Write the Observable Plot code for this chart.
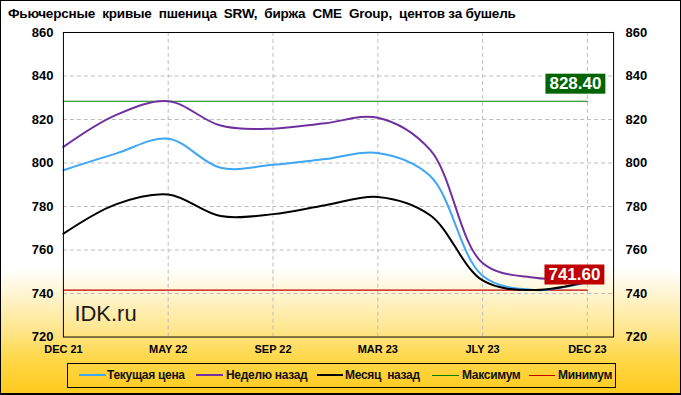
<!DOCTYPE html>
<html><head><meta charset="utf-8">
<script src="https://cdn.jsdelivr.net/npm/d3@7"></script>
<script src="https://cdn.jsdelivr.net/npm/@observablehq/plot@0.6"></script>
<style>
html,body{margin:0;padding:0;background:#fff;}
#wrap{position:relative;width:681px;height:395px;box-sizing:border-box;border:1px solid #000;border-bottom:2px solid #000;
  background:linear-gradient(to bottom,#ffffff 0%,#ffffff 68%,#fff6d6 74%,#ffe68c 84%,#ffd84a 91%,#ffca1e 100%);
  overflow:hidden;font-family:"Liberation Sans",Arial,sans-serif;}
#title{position:absolute;left:7px;top:5px;font-weight:bold;font-size:13.5px;white-space:pre;color:#000;letter-spacing:-0.2px;}
#chart{position:absolute;left:-1px;top:23px;}
#legend{position:absolute;left:66px;top:362px;width:549px;height:25px;border:1px solid #000;box-sizing:border-box;}
.ll{position:absolute;top:11px;height:0;border-top-style:solid;}
.lt{position:absolute;top:4px;font-weight:bold;font-size:12px;white-space:pre;color:#111;letter-spacing:-0.3px;}
</style></head>
<body>
<div id="wrap">
  <div id="title">Фьючерсные  кривые  пшеница  SRW,  биржа  CME  Group,  центов за бушель</div>
  <div id="chart"></div>
  <div id="legend"></div>
</div>
<script>
// Contract months (x categories)
const contracts = ["DEC 21","MAR 22","MAY 22","JLY 22","SEP 22","DEC 22","MAR 23","MAY 23","JLY 23","SEP 23","DEC 23"];
const labeledIdx = [0, 2, 4, 6, 8, 10];
// Series values, cents per bushel
const current  = [796.7, 804.3, 811.2, 797.8, 799.2, 801.8, 804.6, 794.0, 748.2, 741.6, 745.2];
const weekAgo  = [807.4, 822.0, 828.4, 817.2, 815.8, 818.3, 820.8, 806.0, 754.0, 747.3, 747.0];
const monthAgo = [767.5, 781.0, 785.5, 775.6, 776.5, 780.6, 784.4, 776.0, 746.0, 741.6, 745.5];
const maxValue = 828.40;
const minValue = 741.60;
const yTicks = [720, 740, 760, 780, 800, 820, 840, 860];
const yGrid = [740, 760, 780, 800, 820, 840];
const xGrid = [2, 4, 6, 8, 10];
const seriesNames = ["Текущая цена", "Неделю назад", "Месяц  назад", "Максимум", "Минимум"];
const seriesColors = ["#3ea6f5", "#7030a0", "#000000", "#008000", "#c00000"];

const rows = [];
[current, weekAgo, monthAgo].forEach((arr, s) => arr.forEach((v, i) => rows.push({i, v, s: seriesNames[s]})));
const lastIdx = contracts.length - 1;
const maxLine = [{i: 0, v: maxValue}, {i: lastIdx, v: maxValue}];
const minLine = [{i: 0, v: minValue}, {i: lastIdx, v: minValue}];

const chart = Plot.plot({
  width: 681,
  height: 334,
  marginLeft: 63,
  marginRight: 67,
  marginTop: 8,
  marginBottom: 21,
  style: {background: "transparent", fontFamily: "'Liberation Sans', Arial, sans-serif", fontWeight: "bold", color: "#000", overflow: "visible"},
  x: {domain: [0, lastIdx + 0.5]},
  y: {domain: [720, 860]},
  color: {domain: seriesNames, range: seriesColors},
  marks: [
    Plot.ruleY(yGrid, {stroke: "#bdbdbd", strokeDasharray: "4,3", strokeWidth: 1}),
    Plot.ruleX(xGrid, {stroke: "#bdbdbd", strokeDasharray: "4,3", strokeWidth: 1}),
    Plot.line(maxLine, {x: "i", y: "v", stroke: "#008000", strokeWidth: 1.2}),
    Plot.line(minLine, {x: "i", y: "v", stroke: "#c00000", strokeWidth: 1.2}),
    Plot.line(rows, {x: "i", y: "v", z: "s", stroke: "s", strokeWidth: 2, curve: "catmull-rom"}),
    Plot.text(["IDK.ru"], {frameAnchor: "bottom-left", dx: 11, dy: -16, fontSize: 22, fontWeight: "normal", fill: "#1a1a1a"}),
    Plot.text([{i: lastIdx, v: maxValue}], {x: "i", y: "v", text: d => d.v.toFixed(2), dx: -12, dy: -18, fontSize: 17, fill: "#fff", className: "vlabel"}),
    Plot.text([{i: lastIdx, v: minValue}], {x: "i", y: "v", text: d => d.v.toFixed(2), dx: -13, dy: -16, fontSize: 17, fill: "#fff", className: "vlabel"}),
    Plot.axisY(yTicks, {anchor: "left", tickSize: 0, tickPadding: 10, fontSize: 13, label: null}),
    Plot.axisY(yTicks, {anchor: "right", tickSize: 0, tickPadding: 12, fontSize: 13, label: null}),
    Plot.axisX(labeledIdx, {anchor: "bottom", tickSize: 0, tickPadding: 8, fontSize: 11, label: null, tickFormat: i => contracts[i]}),
    Plot.frame({stroke: "#000", strokeWidth: 1})
  ]
});
document.getElementById("chart").appendChild(chart);

// Colored boxes behind the value labels
const labelBgs = ["#006400", "#c00000"];
d3.select(chart).selectAll("g.vlabel").each(function(_, k) {
  d3.select(this).selectAll("text").each(function() {
    const bb = this.getBBox();
    const r = document.createElementNS("http://www.w3.org/2000/svg", "rect");
    r.setAttribute("x", bb.x - 4);
    r.setAttribute("y", bb.y);
    r.setAttribute("width", bb.width + 8);
    r.setAttribute("height", bb.height + 1);
    r.setAttribute("fill", labelBgs[k]);
    const t = this.getAttribute("transform");
    if (t) r.setAttribute("transform", t);
    this.parentNode.insertBefore(r, this);
  });
});

// Legend
const legendPos = [
  {l0: 11, l1: 38, t: 39},
  {l0: 128, l1: 155, t: 158},
  {l0: 249, l1: 275, t: 277},
  {l0: 364, l1: 391, t: 394},
  {l0: 461, l1: 487, t: 490}
];
const widths = [2.5, 2.5, 2.5, 1.2, 1.2];
const leg = d3.select("#legend");
seriesNames.forEach((name, k) => {
  const p = legendPos[k];
  leg.append("div").attr("class", "ll")
    .style("left", p.l0 + "px").style("width", (p.l1 - p.l0) + "px")
    .style("border-top-width", widths[k] + "px").style("border-top-color", seriesColors[k])
    .style("top", (11.5 - widths[k] / 2) + "px");
  leg.append("div").attr("class", "lt").style("left", p.t + "px").text(name);
});
</script>
</body></html>
